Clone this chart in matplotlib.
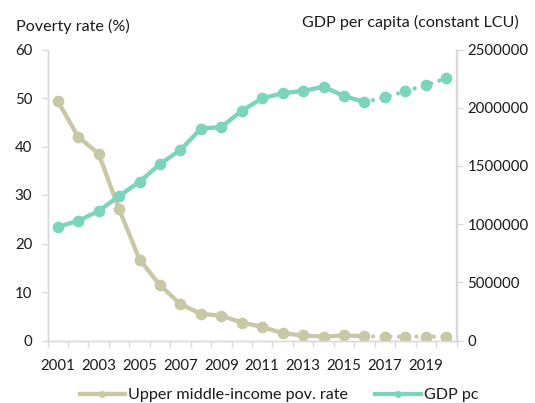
import matplotlib
matplotlib.use("Agg")
import matplotlib.pyplot as plt
from matplotlib.lines import Line2D

years = list(range(2001, 2021))
poverty = [49.4, 42.0, 38.5, 27.1, 16.7, 11.4, 7.5, 5.5, 5.1, 3.7, 2.8, 1.5, 1.05, 0.8, 1.05, 0.85, 0.8, 0.8, 0.8, 0.8]
gdp = [977000, 1028000, 1112000, 1241000, 1364000, 1516000, 1637000, 1820000, 1834000, 1974000,
       2081000, 2124000, 2144000, 2180000, 2100000, 2049000, 2089000, 2141000, 2195000, 2252000]
last_actual = 2016  # projections afterwards (dotted)
left_ticks = [0, 10, 20, 30, 40, 50, 60]
right_ticks = [0, 500000, 1000000, 1500000, 2000000, 2500000]
pov_label = "Upper middle-income pov. rate"
gdp_label = "GDP pc"

beige = "#C9C8A6"
teal = "#7DD4BC"
grey = "#D9D9D9"
txt = "#1a1a1a"

plt.rcParams['font.family'] = ['Lato', 'DejaVu Sans']
fs_num = 10.8
fs_txt = 11.6

fig = plt.figure(figsize=(5.35, 4.03), dpi=100)
ax = fig.add_axes([47.5/535, 1-340.5/403, 409/535, 291/403])
ax2 = ax.twinx()

x = list(range(len(years)))
k = years.index(last_actual)
lw = 3.1
ms = 7.4
dots = (0, (0.01, 2.0))

for a, vals, col in [(ax, poverty, beige), (ax2, gdp, teal)]:
    a.plot(x[:k+1], vals[:k+1], color=col, lw=lw, solid_capstyle='round', solid_joinstyle='round', zorder=2)
    a.plot(x[k:], vals[k:], color=col, lw=lw, linestyle=dots, dash_capstyle='round', zorder=2)
    a.plot(x, vals, linestyle='none', marker='o', ms=ms, color=col, mec=col, zorder=3)

ax.set_xlim(-0.5, len(years) - 0.5)
ax.set_ylim(0, 60)
ax2.set_ylim(0, 2500000)
ax.set_yticks(left_ticks)
ax.set_yticklabels([str(t) for t in left_ticks])
ax2.set_yticks(right_ticks)
ax2.set_yticklabels([str(t) for t in right_ticks])

ax.set_xticks(x[::2])
ax.set_xticklabels([str(y) for y in years[::2]])
ax.set_xticks([i - 0.5 for i in range(len(years) + 1)], minor=True)
ax.tick_params(axis='x', which='major', length=0, pad=13, labelsize=fs_num, labelcolor=txt)
ax.tick_params(axis='x', which='minor', length=4, width=1, color=grey, direction='out')
ax.tick_params(axis='y', length=4, width=1, color=grey, labelsize=fs_num, labelcolor=txt, pad=7)
ax2.tick_params(axis='y', length=4, width=1, color=grey, labelsize=fs_num, labelcolor=txt, pad=4)

for a in (ax, ax2):
    a.spines['top'].set_visible(False)
    for s in ('left', 'right', 'bottom'):
        a.spines[s].set_color(grey)
        a.spines[s].set_linewidth(1)

fig.text(16/535, 1-26/403, "Poverty rate (%)", fontsize=fs_txt, color=txt, va='center', ha='left')
fig.text(519/535, 1-22/403, "GDP per capita (constant LCU)", fontsize=fs_txt, color=txt, va='center', ha='right')

handles = [Line2D([0], [0], color=beige, lw=lw, marker='o', ms=4),
           Line2D([0], [0], color=teal, lw=lw, marker='o', ms=4)]
fig.legend(handles, [pov_label, gdp_label], loc='center', bbox_to_anchor=(279/535, 1-395/403),
           ncol=2, frameon=False, fontsize=fs_txt, handlelength=2.8, handletextpad=0.2,
           columnspacing=1.7, labelcolor=txt, borderaxespad=0, borderpad=0)

fig.savefig("out.png", dpi=100)
